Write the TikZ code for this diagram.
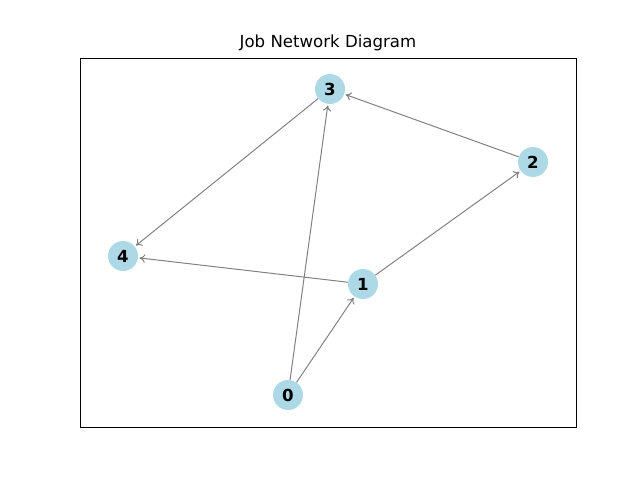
\documentclass[tikz,border=0pt]{standalone}
\usepackage{fontspec}
\setmainfont{DejaVu Sans}
\usepackage{tikz}
\usetikzlibrary{arrows.meta}
\definecolor{jobblue}{HTML}{ADD8E6}

\begin{document}
\begin{tikzpicture}[>={To[length=4pt,width=6pt]},
    job/.style={circle,fill=jobblue,minimum size=0.75cm,inner sep=0pt,
      font=\fontsize{11.8}{14}\selectfont\bfseries},
    link/.style={->,draw=gray,line width=0.7pt,shorten >=1pt}]
   \useasboundingbox (0,0) rectangle (16,12);
   \draw[line width=0.6pt,black] (2,1.325) rectangle (14.4,10.55);
   \node[font=\fontsize{11.8}{14}\selectfont] (title) at (8.2,10.925) {Job Network Diagram};
   \node[job] (n3) at (8.25,9.775) {3};
   \node[job] (n2) at (13.325,7.95) {2};
   \node[job] (n4) at (3.075,5.6) {4};
   \node[job] (n1) at (9.075,4.9) {1};
   \node[job] (n0) at (7.2,2.125) {0};
   \path[link]
    (n0) edge (n3)
         edge (n1)
    (n1) edge (n2)
         edge (n4)
    (n2) edge (n3)
    (n3) edge (n4);
\end{tikzpicture}
\end{document}
